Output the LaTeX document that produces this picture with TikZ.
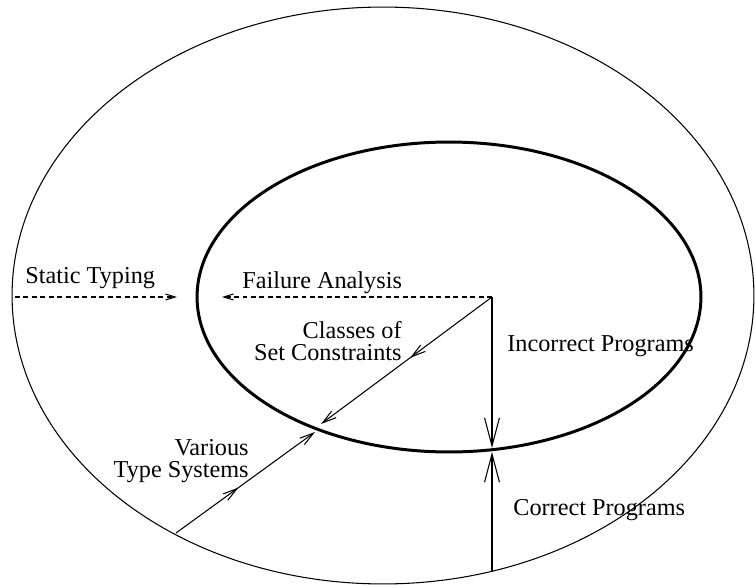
\documentclass[tikz,border=0pt]{standalone}
\usepackage{fontspec}
\setmainfont{Liberation Serif}
\usetikzlibrary{arrows.meta,decorations.markings}
\tikzset{
  ring/.style={draw, line width=0.6pt},
  core/.style={draw, line width=1.7pt},
  link/.style={draw, line width=0.6pt},
  hint/.style={draw, line width=0.6pt, dash pattern=on 2.8pt off 2pt},
  bigtip/.style={-{Straight Barb[length=16pt,width=8.5pt]}},
  medtip/.style={-{Straight Barb[length=8pt,width=4.5pt]}},
  smalltip/.style={-{Straight Barb[length=5.5pt,width=3.4pt]}},
  mid/.style={postaction={decorate}, decoration={markings,
      mark=at position #1 with {\arrow{Straight Barb[length=8pt,width=4.5pt]}}}},
  lab/.style={inner sep=0pt, font=\fontsize{13.8}{12}\selectfont},
}
\begin{document}
\begin{tikzpicture}[x=0.02cm, y=-0.02cm]
  \useasboundingbox (0,0) rectangle (755,585);
  % the two sets
  \draw[ring] (383,295.5) ellipse [x radius=7.42cm, y radius=5.77cm];
  \draw[core] (449,297) ellipse [x radius=5.04cm, y radius=3.1cm];
  % end points
  \coordinate (c) at (492,297);
  \coordinate (fa) at (222,297);
  \coordinate (st0) at (15,297);
  \coordinate (st) at (177,297);
  \coordinate (inbot) at (492,448);
  \coordinate (inbot2) at (492,452);
  \coordinate (outbot) at (492,572);
  \coordinate (cs) at (321,424);
  \coordinate (ts0) at (176,533);
  \coordinate (ts) at (315,432);
  % labels
  \node[lab, anchor=base west] (stat) at (25,283) {Static Typing};
  \node[lab, anchor=base west] (fail) at (242,288) {Failure Analysis};
  \node[lab, anchor=base east, align=right] (cls) at (402,360) {Classes of\\Set Constraints};
  \node[lab, anchor=base west] (inc) at (507,351) {Incorrect Programs};
  \node[lab, anchor=base east, align=right] (typ) at (249,477) {Various\\Type Systems};
  \node[lab, anchor=base west] (cor) at (513,515) {Correct Programs};
  % arrows
  \draw[hint, smalltip] (c) -- (fa);
  \draw[hint, smalltip] (st0) -- (st);
  \draw[link, bigtip] (c) -- (inbot);
  \draw[link, bigtip] (outbot) -- (inbot2);
  \draw[link, medtip, mid=0.48] (c) -- (cs);
  \draw[link, medtip, mid=0.45] (ts0) -- (ts);
\end{tikzpicture}
\end{document}
